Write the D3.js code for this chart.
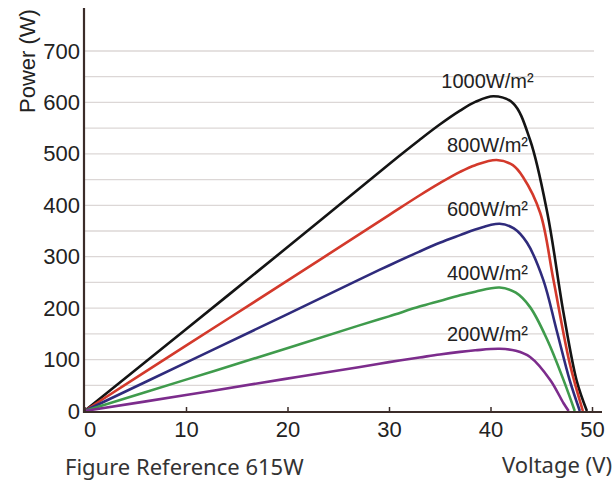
<!DOCTYPE html>
<html>
<head>
<meta charset="utf-8">
<script src="https://cdn.jsdelivr.net/npm/d3@7"></script>
<style>
  body { margin: 0; background: #fff; }
  svg { display: block; }
</style>
</head>
<body>
<script>
// irradiance curves, values
const seriesNames = ["1000W/m²", "800W/m²", "600W/m²", "400W/m²", "200W/m²"];
const seriesColors = ["#141414", "#d3392b", "#2f2b7c", "#3f9b4c", "#7c2c8c"];

const v1000 = [0, 10, 19.65, 30, 33, 35, 37, 38.5, 40.3, 42.2, 43.9, 45.6, 47.2, 48.5, 49.5];
const p1000 = [0, 159, 313, 480, 527, 557, 584, 601, 612, 599, 527, 385, 190, 58, 0];

const v800 = [0, 10, 19.65, 30, 33, 35, 37, 38.5, 40.6, 42.2, 43.2, 44.9, 46.2, 47.8, 49.1];
const p800 = [0, 127, 249, 381, 419, 443, 465, 478, 488, 478, 455, 385, 255, 93, 0];

const v600 = [0, 10, 19.65, 27, 30, 33, 35, 37, 38.5, 40.9, 42.3, 43.6, 45.2, 46.5, 47.8, 48.8];
const p600 = [0, 94, 185, 255, 283, 310, 327, 342, 353, 364, 355, 327, 255, 158, 60, 0];

const v400 = [0, 10, 19.65, 27, 30, 33, 35, 37, 38.5, 40.9, 42.5, 43.9, 45.6, 47.2, 48.3];
const p400 = [0, 61, 120, 166, 184, 203, 214, 225, 232, 240, 230, 202, 138, 60, 0];

const v200 = [0, 10, 19.65, 27, 30, 33, 35, 37, 38.5, 40.9, 42.5, 43.9, 45.9, 47.2, 47.7];
const p200 = [0, 31, 62, 85, 95, 104, 110, 115, 118, 121, 117, 105, 60, 15, 0];

const xTicks = [0, 10, 20, 30, 40, 50];
const yTicks = [0, 100, 200, 300, 400, 500, 600, 700];
const gridValues = d3.range(50, 701, 50);

const width = 615;
const height = 481;

const svg = d3.select("body")
  .append("svg")
  .attr("width", width)
  .attr("height", height);

const x = d3.scaleLinear().domain([0, 50]).range([84.5, 592]);
const y = d3.scaleLinear().domain([0, 700]).range([411, 51]);

const tickFont = "'Liberation Sans', Arial, sans-serif";
const axisColor = "#3b2c29";

// horizontal grid
svg.append("g")
  .selectAll("line")
  .data(gridValues)
  .join("line")
  .attr("x1", 85)
  .attr("x2", 594)
  .attr("y1", d => y(d))
  .attr("y2", d => y(d))
  .attr("stroke", "#dcd7d6")
  .attr("stroke-width", 1.3);

// curves
const series = [
  { v: v1000, p: p1000 },
  { v: v800, p: p800 },
  { v: v600, p: p600 },
  { v: v400, p: p400 },
  { v: v200, p: p200 }
].map((s, i) => ({
  name: seriesNames[i],
  color: seriesColors[i],
  points: s.v.map((v, j) => [v, s.p[j]])
}));

const line = d3.line()
  .x(d => x(d[0]))
  .y(d => y(d[1]))
  .curve(d3.curveCatmullRom.alpha(0.5));

svg.append("g")
  .selectAll("path")
  .data(series)
  .join("path")
  .attr("d", d => line(d.points))
  .attr("fill", "none")
  .attr("stroke", d => d.color)
  .attr("stroke-width", 2.6)
  .attr("stroke-linejoin", "round");

// labels sit just above each peak
svg.append("g")
  .selectAll("text")
  .data(series)
  .join("text")
  .attr("x", x(39.7))
  .attr("y", d => y(d3.max(d.points, p => p[1])) - 8)
  .attr("text-anchor", "middle")
  .attr("font-family", tickFont)
  .attr("font-size", 20)
  .attr("fill", "#222")
  .text(d => d.name);

// x axis
const xAxis = svg.append("g")
  .attr("transform", "translate(0,412)")
  .call(d3.axisBottom(x).tickValues(xTicks).tickSizeInner(-5).tickSizeOuter(0).tickPadding(9));
xAxis.select(".domain").remove();
xAxis.selectAll(".tick line").attr("stroke", axisColor).attr("stroke-width", 1.5);
xAxis.selectAll(".tick text")
  .attr("font-family", tickFont)
  .attr("font-size", 22)
  .attr("fill", "#222")
  .attr("dx", d => d === 0 ? 5 : 0);

svg.append("line")
  .attr("x1", 83)
  .attr("x2", 602)
  .attr("y1", 412)
  .attr("y2", 412)
  .attr("stroke", axisColor)
  .attr("stroke-width", 2.2);

// y axis
const yAxis = svg.append("g")
  .attr("transform", "translate(84,0)")
  .call(d3.axisLeft(y).tickValues(yTicks).tickSize(0).tickPadding(4));
yAxis.select(".domain").remove();
yAxis.selectAll(".tick text")
  .attr("font-family", tickFont)
  .attr("font-size", 22)
  .attr("fill", "#222");

svg.append("line")
  .attr("x1", 84)
  .attr("x2", 84)
  .attr("y1", 8)
  .attr("y2", 413)
  .attr("stroke", axisColor)
  .attr("stroke-width", 2.2);

// axis titles
svg.append("text")
  .attr("transform", "translate(35,61) rotate(-90)")
  .attr("text-anchor", "middle")
  .attr("font-family", tickFont)
  .attr("font-size", 22)
  .attr("fill", "#222")
  .text("Power (W)");

svg.append("text")
  .attr("x", 612)
  .attr("y", 473)
  .attr("text-anchor", "end")
  .attr("font-family", "'Noto Sans', sans-serif")
  .attr("font-size", 22)
  .attr("fill", "#333")
  .text("Voltage (V)");

svg.append("text")
  .attr("x", 65)
  .attr("y", 475)
  .attr("font-family", "'Noto Sans', sans-serif")
  .attr("font-size", 22)
  .attr("fill", "#333")
  .text("Figure Reference 615W");
</script>
</body>
</html>
